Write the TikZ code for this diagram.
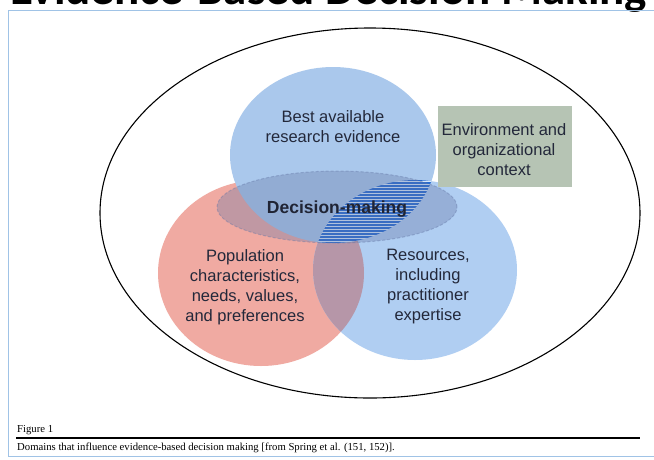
\documentclass[tikz,border=0pt]{standalone}
\usepackage{fontspec}
\setmainfont{Liberation Sans}
\newfontfamily\capfont{Liberation Serif}
\newfontfamily\titlefont{Carlito}
\definecolor{redc}{RGB}{240,170,162}
\definecolor{bluetop}{RGB}{170,200,236}
\definecolor{blueright}{RGB}{176,206,242}
\definecolor{mauve}{RGB}{182,150,168}
\definecolor{decis}{RGB}{100,118,165}
\definecolor{hatchc}{RGB}{35,105,210}
\definecolor{hatchbg}{RGB}{215,232,250}
\definecolor{envbox}{RGB}{182,196,180}
\definecolor{txt}{RGB}{35,40,58}
\definecolor{framec}{RGB}{160,195,230}
\tikzset{
  lbl/.style={text=txt, align=center, font=\fontsize{16.5}{20}\selectfont, inner sep=0pt},
  caption/.style={anchor=base west, inner sep=0pt, text=black, font=\capfont\fontsize{10.7}{12}\selectfont}
}
\begin{document}
\begin{tikzpicture}[x=1pt,y=-1pt]
\useasboundingbox (0,0) rectangle (654,459);
\fill[white] (0,0) rectangle (654,459);
\begin{scope}
\clip (0,0) rectangle (654,459);
% cut-off title
\node[anchor=base west, inner sep=0pt, font=\titlefont\bfseries\fontsize{47}{50}\selectfont] (title) at (10,4.5) {Evidence-Based Decision Making};
% frame
\draw[framec, line width=1pt] (8,10) rectangle (662,456);
\end{scope}
% circles
\fill[redc] (261,273) ellipse [x radius=103pt, y radius=93pt];
\fill[blueright] (415,270) ellipse [x radius=102pt, y radius=90pt];
\begin{scope}
  \clip (261,273) ellipse [x radius=103pt, y radius=93pt];
  \fill[mauve] (415,270) ellipse [x radius=102pt, y radius=90pt];
\end{scope}
\fill[bluetop] (333,155) ellipse [x radius=103pt, y radius=88pt];
% hatched overlap of top and right
\begin{scope}
  \clip (333,155) ellipse [x radius=103pt, y radius=88pt];
  \clip (415,270) ellipse [x radius=102pt, y radius=90pt];
  \fill[hatchbg] (300,170) rectangle (450,250);
  \foreach \yy in {177,180,...,246} \draw[hatchc, line width=1.5pt] (300,\yy) -- (450,\yy);
\end{scope}
% decision ellipse
\fill[decis, opacity=0.34] (337,207) ellipse [x radius=120pt, y radius=36pt];
\draw[decis, opacity=0.4, line width=1pt, dash pattern=on 3pt off 2pt] (337,207) ellipse [x radius=120pt, y radius=36pt];
% environment box
\node[fill=envbox, minimum width=134pt, minimum height=81pt, inner sep=0pt] (envbox) at (505,146) {};
\node[lbl] (env) at (504,150) {Environment and\\organizational\\context};
% outer ellipse
\draw[black, line width=1.1pt] (370,213) ellipse [x radius=270pt, y radius=185pt];
% labels
\node[lbl] (best) at (333,127) {Best available\\research evidence};
\node[lbl, font=\bfseries\fontsize{17.5}{20}\selectfont, text=txt!90!black] (dm) at (337,209) {Decision-making};
\node[lbl] (pop) at (245,287) {Population\\characteristics,\\needs, values,\\and preferences};
\node[lbl] (res) at (428,287) {Resources,\\including\\practitioner\\expertise};
% caption
\node[caption] (fig) at (17,432) {Figure 1};
\coordinate (ruleL) at (16,438);
\coordinate (ruleR) at (640,438);
\draw[black, line width=1.8pt] (ruleL) -- (ruleR);
\node[caption] (cap) at (17,450) {Domains that influence evidence-based decision making [from Spring et al. (151, 152)].};
\end{tikzpicture}
\end{document}
